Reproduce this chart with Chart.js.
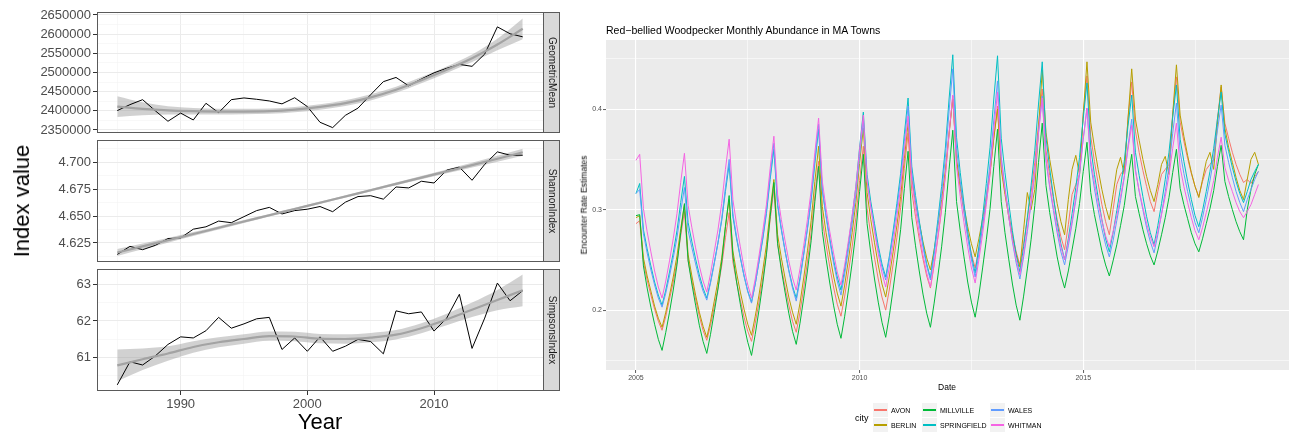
<!DOCTYPE html>
<html>
<head>
<meta charset="utf-8">
<title>Index values and woodpecker abundance</title>
<script src="https://cdn.jsdelivr.net/npm/chart.js@4.4.1/dist/chart.umd.min.js"></script>
<style>
  html, body { margin: 0; padding: 0; background: #fff; }
  body { width: 1289px; height: 432px; position: relative; overflow: hidden;
         font-family: "Liberation Sans", Arial, sans-serif; }
  canvas { position: absolute; }
  .lbl { position: absolute; white-space: nowrap; line-height: 1; color: #000; }
  .key { position: absolute; width: 15px; height: 14px; background: #F2F2F2; }
  .key span { position: absolute; left: 1px; width: 13px; top: 6px; height: 2px; }
</style>
</head>
<body>
<canvas id="facetGeo" width="562" height="141" style="left:0;top:2px"></canvas>
<canvas id="facetShannon" width="562" height="142" style="left:0;top:130px"></canvas>
<canvas id="facetSimpson" width="562" height="158" style="left:0;top:259px"></canvas>
<canvas id="chartCities" width="729" height="352" style="left:560px;top:34px"></canvas>

<div class="lbl" style="left:22px;top:201px;font-size:22px;transform:translate(-50%,-50%) rotate(-90deg)">Index value</div>
<div class="lbl" style="left:320px;top:422px;font-size:22px;transform:translate(-50%,-50%)">Year</div>
<div class="lbl" style="left:606px;top:30px;font-size:10.5px;transform:translateY(-50%)">Red−bellied Woodpecker Monthly Abundance in MA Towns</div>
<div class="lbl" style="left:947px;top:387px;font-size:8.5px;transform:translate(-50%,-50%)">Date</div>
<div class="lbl" style="left:584px;top:205px;font-size:8.5px;transform:translate(-50%,-50%) rotate(-90deg)">Encounter Rate Estimates</div>
<div class="lbl" style="left:855px;top:418px;font-size:9px;transform:translateY(-50%)">city</div>
<div id="legend"></div>

<script>
// ---- left panels: yearly index values ----
const YEARS = [1985, 1986, 1987, 1988, 1989, 1990, 1991, 1992, 1993, 1994, 1995,
               1996, 1997, 1998, 1999, 2000, 2001, 2002, 2003, 2004, 2005, 2006,
               2007, 2008, 2009, 2010, 2011, 2012, 2013, 2014, 2015, 2016, 2017];
const FIT_YEARS = [1985, 1987, 1989, 1991, 1993, 1995, 1997, 1999, 2001,
                   2003, 2005, 2007, 2009, 2011, 2013, 2015, 2017];

const geometricMean = [2400400, 2416000, 2429000, 2400000, 2372600, 2394000, 2376000, 2419600,
                       2395000, 2429000, 2433500, 2430000, 2425600, 2418000, 2434000, 2411000,
                       2370000, 2356000, 2388000, 2407000, 2442000, 2476000, 2487000, 2465000,
                       2483000, 2499000, 2511000, 2521000, 2516000, 2548000, 2619000, 2601000, 2593000];
const geometricFit = [2411000, 2405000, 2401000, 2399000, 2398000, 2398000, 2399000, 2403000, 2410000,
                      2420000, 2435000, 2455000, 2480000, 2507000, 2537000, 2573000, 2614000];
const geometricLow = [2384000, 2388000, 2390000, 2390500, 2390500, 2391000, 2392000, 2396000, 2403000,
                      2412500, 2427000, 2447000, 2472000, 2498500, 2527000, 2558000, 2587000];
const geometricHigh = [2438000, 2422000, 2412000, 2407500, 2405500, 2405000, 2406000, 2410000, 2417000,
                       2427500, 2443000, 2463000, 2488000, 2515500, 2547000, 2588000, 2641000];

const shannonIndex = [4.6144, 4.6219, 4.6188, 4.6228, 4.6291, 4.6297, 4.6378, 4.6400, 4.6453, 4.6438,
                      4.6494, 4.6550, 4.6580, 4.6519, 4.6550, 4.6563, 4.6588, 4.6540, 4.6628, 4.6680,
                      4.6688, 4.6656, 4.6769, 4.6760, 4.6822, 4.6806, 4.6925, 4.6953, 4.6831, 4.6978,
                      4.7094, 4.7063, 4.7063];
const shannonFit = [4.6162, 4.6219, 4.6275, 4.6333, 4.6391, 4.6449, 4.6507, 4.6565, 4.6623,
                    4.6681, 4.6739, 4.6797, 4.6855, 4.6913, 4.6971, 4.7030, 4.7090];
const shannonLow = [4.6130, 4.6192, 4.6253, 4.6315, 4.6376, 4.6436, 4.6495, 4.6554, 4.6612,
                    4.6670, 4.6727, 4.6784, 4.6840, 4.6895, 4.6949, 4.7003, 4.7058];
const shannonHigh = [4.6194, 4.6246, 4.6297, 4.6351, 4.6406, 4.6462, 4.6519, 4.6576, 4.6634,
                     4.6692, 4.6751, 4.6810, 4.6870, 4.6931, 4.6993, 4.7057, 4.7122];

const simpsonsIndex = [60.23, 60.87, 60.78, 61.03, 61.35, 61.56, 61.53, 61.73, 62.10, 61.80, 61.92,
                       62.06, 62.10, 61.21, 61.53, 61.16, 61.56, 61.16, 61.30, 61.49, 61.43, 61.09,
                       62.28, 62.20, 62.25, 61.72, 62.08, 62.74, 61.24, 62.08, 63.05, 62.56, 62.84];
const simpsonsFit = [60.77, 60.94, 61.10, 61.28, 61.41, 61.50, 61.58, 61.57, 61.51,
                     61.50, 61.54, 61.62, 61.80, 62.04, 62.31, 62.58, 62.85];
const simpsonsLow = [60.33, 60.64, 60.90, 61.12, 61.27, 61.37, 61.45, 61.44, 61.38,
                     61.37, 61.41, 61.49, 61.66, 61.88, 62.11, 62.30, 62.41];
const simpsonsHigh = [61.21, 61.24, 61.30, 61.44, 61.55, 61.63, 61.71, 61.70, 61.64,
                      61.63, 61.67, 61.75, 61.94, 62.20, 62.51, 62.86, 63.29];

const yearMajor = [1990, 2000, 2010];
const yearMinor = [1985, 1995, 2005, 2015];
const geoMajor = [2350000, 2400000, 2450000, 2500000, 2550000, 2600000, 2650000];
const geoMinor = [2375000, 2425000, 2475000, 2525000, 2575000, 2625000];
const shannonMajor = [4.625, 4.650, 4.675, 4.700];
const shannonMinor = [4.6125, 4.6375, 4.6625, 4.6875, 4.7125];
const simpsonsMajor = [61, 62, 63];
const simpsonsMinor = [60.5, 61.5, 62.5];

// ---- right panel: monthly encounter rates, Jan 2005 .. Dec 2018 (one row per year) ----
const START_YEAR = 2005;
const CITY_NAMES = ['AVON', 'BERLIN', 'MILLVILLE', 'SPRINGFIELD', 'WALES', 'WHITMAN'];
const CITY_COLORS = ['#F8766D', '#B79F00', '#00BA38', '#00BFC4', '#619CFF', '#F564E3'];

const avon = [
  0.286, 0.289, 0.248, 0.230, 0.215, 0.201, 0.189, 0.180, 0.194, 0.211, 0.228, 0.248,
  0.274, 0.298, 0.249, 0.229, 0.211, 0.194, 0.180, 0.170, 0.185, 0.203, 0.222, 0.244,
  0.272, 0.297, 0.248, 0.228, 0.210, 0.193, 0.179, 0.169, 0.187, 0.208, 0.231, 0.257,
  0.290, 0.320, 0.266, 0.243, 0.223, 0.205, 0.189, 0.178, 0.198, 0.222, 0.248, 0.277,
  0.314, 0.348, 0.290, 0.265, 0.243, 0.223, 0.206, 0.194, 0.214, 0.238, 0.263, 0.292,
  0.329, 0.363, 0.301, 0.275, 0.252, 0.231, 0.213, 0.200, 0.221, 0.246, 0.272, 0.302,
  0.341, 0.376, 0.318, 0.293, 0.271, 0.251, 0.234, 0.222, 0.245, 0.272, 0.300, 0.333,
  0.375, 0.413, 0.348, 0.321, 0.297, 0.275, 0.256, 0.242, 0.261, 0.284, 0.308, 0.335,
  0.371, 0.403, 0.343, 0.318, 0.296, 0.275, 0.258, 0.245, 0.266, 0.291, 0.317, 0.347,
  0.385, 0.420, 0.359, 0.334, 0.311, 0.290, 0.273, 0.260, 0.285, 0.315, 0.325, 0.335,
  0.395, 0.433, 0.373, 0.348, 0.326, 0.305, 0.288, 0.275, 0.300, 0.325, 0.335, 0.340,
  0.390, 0.427, 0.378, 0.357, 0.339, 0.323, 0.308, 0.298, 0.318, 0.335, 0.340, 0.345,
  0.395, 0.432, 0.387, 0.368, 0.351, 0.336, 0.323, 0.313, 0.328, 0.340, 0.345, 0.350,
  0.390, 0.422, 0.386, 0.371, 0.357, 0.345, 0.335, 0.327, 0.330, 0.326, 0.333, 0.338
];
const berlin = [
  0.292, 0.294, 0.252, 0.234, 0.219, 0.204, 0.192, 0.183, 0.198, 0.215, 0.233, 0.254,
  0.281, 0.305, 0.255, 0.234, 0.215, 0.198, 0.184, 0.173, 0.189, 0.209, 0.229, 0.252,
  0.283, 0.310, 0.259, 0.237, 0.218, 0.201, 0.186, 0.175, 0.194, 0.215, 0.239, 0.265,
  0.299, 0.330, 0.275, 0.252, 0.232, 0.213, 0.198, 0.186, 0.207, 0.232, 0.259, 0.289,
  0.328, 0.363, 0.303, 0.277, 0.255, 0.234, 0.217, 0.204, 0.225, 0.250, 0.277, 0.307,
  0.346, 0.381, 0.317, 0.290, 0.267, 0.245, 0.226, 0.213, 0.234, 0.258, 0.284, 0.313,
  0.351, 0.386, 0.331, 0.307, 0.287, 0.268, 0.252, 0.240, 0.260, 0.284, 0.310, 0.339,
  0.376, 0.410, 0.350, 0.325, 0.303, 0.283, 0.266, 0.253, 0.271, 0.291, 0.313, 0.338,
  0.371, 0.400, 0.340, 0.315, 0.293, 0.273, 0.256, 0.243, 0.280, 0.317, 0.300, 0.320,
  0.380, 0.439, 0.377, 0.350, 0.328, 0.306, 0.288, 0.275, 0.310, 0.340, 0.354, 0.335,
  0.395, 0.447, 0.387, 0.362, 0.340, 0.320, 0.303, 0.290, 0.315, 0.340, 0.352, 0.335,
  0.390, 0.440, 0.390, 0.369, 0.350, 0.333, 0.319, 0.308, 0.325, 0.345, 0.353, 0.335,
  0.395, 0.444, 0.394, 0.373, 0.354, 0.337, 0.323, 0.312, 0.330, 0.348, 0.357, 0.340,
  0.385, 0.424, 0.381, 0.362, 0.347, 0.332, 0.319, 0.310, 0.330, 0.350, 0.357, 0.345
];
const millville = [
  0.294, 0.295, 0.244, 0.222, 0.203, 0.186, 0.171, 0.160, 0.178, 0.198, 0.220, 0.245,
  0.277, 0.306, 0.249, 0.226, 0.205, 0.185, 0.169, 0.157, 0.176, 0.198, 0.221, 0.248,
  0.283, 0.314, 0.254, 0.228, 0.206, 0.185, 0.168, 0.155, 0.176, 0.200, 0.226, 0.255,
  0.293, 0.327, 0.266, 0.240, 0.218, 0.197, 0.179, 0.166, 0.187, 0.212, 0.239, 0.269,
  0.308, 0.343, 0.278, 0.251, 0.227, 0.205, 0.186, 0.172, 0.194, 0.220, 0.247, 0.278,
  0.318, 0.355, 0.286, 0.257, 0.231, 0.208, 0.188, 0.173, 0.195, 0.221, 0.249, 0.280,
  0.321, 0.358, 0.292, 0.264, 0.239, 0.216, 0.197, 0.183, 0.207, 0.234, 0.263, 0.297,
  0.340, 0.379, 0.308, 0.279, 0.253, 0.228, 0.208, 0.193, 0.215, 0.242, 0.270, 0.301,
  0.343, 0.380, 0.308, 0.277, 0.251, 0.226, 0.205, 0.190, 0.214, 0.241, 0.270, 0.304,
  0.347, 0.386, 0.324, 0.297, 0.275, 0.253, 0.235, 0.222, 0.239, 0.260, 0.281, 0.306,
  0.338, 0.367, 0.317, 0.295, 0.277, 0.259, 0.245, 0.234, 0.249, 0.265, 0.284, 0.304,
  0.331, 0.355, 0.313, 0.296, 0.280, 0.266, 0.254, 0.245, 0.259, 0.275, 0.292, 0.312,
  0.337, 0.360, 0.321, 0.305, 0.291, 0.277, 0.266, 0.258, 0.271, 0.286, 0.301, 0.319,
  0.343, 0.364, 0.328, 0.313, 0.300, 0.288, 0.278, 0.270, 0.300, 0.320, 0.335, 0.345
];
const springfield = [
  0.316, 0.326, 0.280, 0.261, 0.244, 0.228, 0.215, 0.205, 0.220, 0.238, 0.257, 0.279,
  0.307, 0.333, 0.287, 0.268, 0.251, 0.235, 0.222, 0.212, 0.228, 0.247, 0.267, 0.289,
  0.318, 0.345, 0.293, 0.271, 0.252, 0.234, 0.219, 0.208, 0.226, 0.248, 0.270, 0.296,
  0.330, 0.360, 0.304, 0.280, 0.259, 0.240, 0.224, 0.212, 0.232, 0.256, 0.281, 0.309,
  0.346, 0.380, 0.319, 0.294, 0.271, 0.250, 0.233, 0.220, 0.241, 0.266, 0.293, 0.323,
  0.362, 0.397, 0.335, 0.308, 0.286, 0.264, 0.246, 0.233, 0.254, 0.279, 0.306, 0.336,
  0.375, 0.411, 0.343, 0.314, 0.289, 0.266, 0.246, 0.232, 0.259, 0.290, 0.323, 0.361,
  0.410, 0.454, 0.372, 0.337, 0.306, 0.278, 0.254, 0.237, 0.263, 0.293, 0.326, 0.362,
  0.410, 0.453, 0.371, 0.337, 0.307, 0.279, 0.255, 0.238, 0.263, 0.292, 0.324, 0.359,
  0.405, 0.447, 0.372, 0.341, 0.313, 0.287, 0.266, 0.250, 0.271, 0.296, 0.322, 0.352,
  0.391, 0.426, 0.362, 0.335, 0.312, 0.290, 0.271, 0.258, 0.277, 0.299, 0.322, 0.348,
  0.383, 0.414, 0.357, 0.334, 0.313, 0.293, 0.277, 0.265, 0.284, 0.306, 0.330, 0.357,
  0.392, 0.424, 0.370, 0.348, 0.328, 0.310, 0.294, 0.283, 0.299, 0.318, 0.338, 0.361,
  0.390, 0.417, 0.375, 0.358, 0.342, 0.328, 0.316, 0.307, 0.318, 0.330, 0.338, 0.345
];
const wales = [
  0.316, 0.320, 0.276, 0.257, 0.240, 0.225, 0.212, 0.203, 0.217, 0.234, 0.252, 0.272,
  0.298, 0.322, 0.279, 0.262, 0.246, 0.231, 0.219, 0.210, 0.227, 0.246, 0.267, 0.291,
  0.322, 0.350, 0.296, 0.273, 0.253, 0.234, 0.218, 0.207, 0.226, 0.248, 0.272, 0.299,
  0.334, 0.366, 0.306, 0.281, 0.259, 0.239, 0.222, 0.209, 0.230, 0.255, 0.281, 0.311,
  0.350, 0.385, 0.320, 0.293, 0.269, 0.247, 0.229, 0.215, 0.236, 0.260, 0.286, 0.315,
  0.353, 0.388, 0.328, 0.303, 0.281, 0.260, 0.243, 0.230, 0.251, 0.275, 0.301, 0.330,
  0.368, 0.403, 0.337, 0.310, 0.285, 0.263, 0.244, 0.230, 0.255, 0.285, 0.316, 0.352,
  0.398, 0.440, 0.361, 0.328, 0.299, 0.272, 0.250, 0.233, 0.256, 0.284, 0.313, 0.346,
  0.389, 0.428, 0.353, 0.322, 0.294, 0.268, 0.247, 0.231, 0.253, 0.278, 0.306, 0.337,
  0.377, 0.413, 0.349, 0.322, 0.299, 0.277, 0.258, 0.245, 0.264, 0.286, 0.309, 0.335,
  0.370, 0.401, 0.345, 0.321, 0.300, 0.281, 0.265, 0.253, 0.269, 0.289, 0.309, 0.332,
  0.363, 0.390, 0.340, 0.318, 0.300, 0.282, 0.268, 0.257, 0.275, 0.296, 0.318, 0.343,
  0.376, 0.406, 0.357, 0.336, 0.318, 0.302, 0.287, 0.277, 0.292, 0.310, 0.329, 0.351,
  0.379, 0.404, 0.364, 0.347, 0.332, 0.318, 0.307, 0.298, 0.310, 0.320, 0.330, 0.338
];
const whitman = [
  0.349, 0.355, 0.301, 0.278, 0.258, 0.239, 0.223, 0.212, 0.229, 0.249, 0.271, 0.296,
  0.327, 0.356, 0.304, 0.282, 0.262, 0.244, 0.229, 0.218, 0.236, 0.258, 0.280, 0.306,
  0.340, 0.370, 0.310, 0.285, 0.263, 0.242, 0.225, 0.212, 0.231, 0.254, 0.278, 0.305,
  0.341, 0.373, 0.315, 0.290, 0.269, 0.249, 0.232, 0.220, 0.241, 0.264, 0.290, 0.319,
  0.357, 0.391, 0.328, 0.301, 0.278, 0.257, 0.238, 0.225, 0.245, 0.269, 0.294, 0.323,
  0.360, 0.394, 0.329, 0.302, 0.278, 0.256, 0.237, 0.223, 0.243, 0.267, 0.293, 0.322,
  0.359, 0.393, 0.328, 0.301, 0.277, 0.255, 0.237, 0.223, 0.246, 0.273, 0.301, 0.334,
  0.376, 0.414, 0.343, 0.313, 0.287, 0.263, 0.242, 0.227, 0.250, 0.276, 0.305, 0.337,
  0.379, 0.417, 0.348, 0.319, 0.293, 0.270, 0.250, 0.235, 0.256, 0.281, 0.307, 0.337,
  0.376, 0.411, 0.350, 0.324, 0.302, 0.281, 0.263, 0.250, 0.268, 0.289, 0.312, 0.338,
  0.371, 0.401, 0.349, 0.327, 0.307, 0.289, 0.274, 0.263, 0.278, 0.294, 0.313, 0.333,
  0.360, 0.384, 0.338, 0.319, 0.302, 0.286, 0.273, 0.263, 0.278, 0.295, 0.313, 0.334,
  0.361, 0.386, 0.342, 0.323, 0.307, 0.292, 0.279, 0.270, 0.282, 0.297, 0.312, 0.329,
  0.352, 0.372, 0.342, 0.329, 0.318, 0.307, 0.298, 0.292, 0.298, 0.305, 0.315, 0.325
];
const CITY_SERIES = [avon, berlin, millville, springfield, wales, whitman];

const dateMajor = [2005, 2010, 2015];
const dateMinor = [2007.5, 2012.5, 2017.5];
const rateMajor = [0.2, 0.3, 0.4];
const rateMinor = [0.15, 0.25, 0.35, 0.45];

Chart.defaults.font.family = '"Liberation Sans", Arial, sans-serif';
Chart.defaults.color = '#4D4D4D';
Chart.defaults.animation = false;

const TRANSPARENT = 'rgba(0,0,0,0)';

// panel border + grey strip with the facet name
const facetFrame = {
  id: 'facetFrame',
  afterDraw(chart, args, opts) {
    const { ctx, chartArea: a } = chart;
    const h = a.bottom - a.top;
    ctx.save();
    ctx.fillStyle = '#D9D9D9';
    ctx.fillRect(a.right, a.top, opts.stripWidth, h);
    ctx.strokeStyle = '#5A5A5A';
    ctx.lineWidth = 1;
    ctx.strokeRect(a.left + 0.5, a.top + 0.5, a.right - a.left, h - 1);
    ctx.strokeRect(a.right + 0.5, a.top + 0.5, opts.stripWidth - 1, h - 1);
    ctx.translate(a.right + opts.stripWidth / 2, a.top + h / 2);
    ctx.rotate(Math.PI / 2);
    ctx.fillStyle = '#1A1A1A';
    ctx.font = '10px "Liberation Sans", Arial, sans-serif';
    ctx.textAlign = 'center';
    ctx.textBaseline = 'middle';
    ctx.fillText(opts.label, 0, 0);
    ctx.restore();
  }
};

const panelBackground = {
  id: 'panelBackground',
  beforeDraw(chart, args, opts) {
    const { ctx, chartArea: a } = chart;
    ctx.save();
    ctx.fillStyle = opts.color;
    ctx.fillRect(a.left, a.top, a.right - a.left, a.bottom - a.top);
    ctx.restore();
  }
};

function tickScale(major, minor, opts) {
  const isMajor = v => major.some(m => Math.abs(m - v) < 1e-9);
  return {
    type: 'linear',
    min: opts.min,
    max: opts.max,
    afterBuildTicks: s => { s.ticks = major.concat(minor).sort((p, q) => p - q).map(v => ({ value: v })); },
    afterFit: s => { if (opts.width !== undefined) s.width = opts.width; if (opts.height !== undefined) s.height = opts.height; },
    border: { display: false },
    grid: {
      color: c => isMajor(c.tick.value) ? opts.majorColor : opts.minorColor,
      lineWidth: c => isMajor(c.tick.value) ? opts.majorWidth : opts.minorWidth,
      tickColor: c => isMajor(c.tick.value) ? '#333333' : TRANSPARENT,
      tickLength: opts.tickLength,
      tickWidth: opts.tickWidth,
      drawTicks: opts.showLabels
    },
    ticks: {
      display: opts.showLabels,
      autoSkip: false,
      maxRotation: 0,
      padding: opts.padding,
      color: '#4D4D4D',
      font: { size: opts.fontSize },
      callback: v => isMajor(v) ? opts.format(v) : ''
    }
  };
}

function makeFacet(id, label, values, fit, low, high, yMajor, yMinor, yMin, yMax, showYears) {
  const line = (ys, xs) => xs.map((x, i) => ({ x, y: ys[i] }));
  const leftGrid = { majorColor: '#EBEBEB', minorColor: '#F3F3F3', majorWidth: 1, minorWidth: 0.6,
                     tickLength: 4, tickWidth: 1, fontSize: 13, padding: 2 };
  return new Chart(document.getElementById(id), {
    type: 'line',
    data: {
      datasets: [
        { data: line(low, FIT_YEARS), borderColor: TRANSPARENT, borderWidth: 0, pointRadius: 0,
          fill: false, cubicInterpolationMode: 'monotone', order: 3 },
        { data: line(high, FIT_YEARS), borderColor: TRANSPARENT, borderWidth: 0, pointRadius: 0,
          fill: '-1', backgroundColor: 'rgba(153,153,153,0.45)', cubicInterpolationMode: 'monotone', order: 2 },
        { data: line(values, YEARS), borderColor: '#000000', borderWidth: 1, pointRadius: 0, order: 1 },
        { data: line(fit, FIT_YEARS), borderColor: '#A3A3A3', borderWidth: 2.2, pointRadius: 0,
          cubicInterpolationMode: 'monotone', order: 0 }
      ]
    },
    options: {
      responsive: false,
      devicePixelRatio: 1,
      events: [],
      layout: { padding: { left: 0, right: 19, top: 10, bottom: showYears ? 0 : 10 } },
      plugins: { legend: { display: false }, tooltip: { enabled: false },
                 facetFrame: { label, stripWidth: 17 } },
      scales: {
        x: tickScale(yearMajor, yearMinor, Object.assign({}, leftGrid, {
          min: 1983.4, max: 2018.6, height: showYears ? 26 : 0, showLabels: showYears,
          format: v => String(v) })),
        y: tickScale(yMajor, yMinor, Object.assign({}, leftGrid, {
          min: yMin, max: yMax, width: 97, showLabels: true,
          format: v => id === 'facetShannon' ? v.toFixed(3) : String(v) }))
      }
    },
    plugins: [facetFrame]
  });
}

function makeCityChart() {
  const months = avon.map((_, i) => START_YEAR + i / 12);
  const rightGrid = { majorColor: '#FFFFFF', minorColor: '#FFFFFF', majorWidth: 1.1, minorWidth: 0.55,
                      tickLength: 3, tickWidth: 0.8, fontSize: 7, padding: 1, showLabels: true };
  return new Chart(document.getElementById('chartCities'), {
    type: 'line',
    data: {
      datasets: CITY_SERIES.map((series, i) => ({
        label: CITY_NAMES[i],
        data: months.map((x, j) => ({ x, y: series[j] })),
        borderColor: CITY_COLORS[i],
        borderWidth: 1,
        pointRadius: 0,
        tension: 0,
        order: CITY_SERIES.length - 1 - i
      }))
    },
    options: {
      responsive: false,
      devicePixelRatio: 1,
      events: [],
      layout: { padding: { left: 0, right: 0, top: 6, bottom: 0 } },
      plugins: { legend: { display: false }, tooltip: { enabled: false },
                 panelBackground: { color: '#EBEBEB' } },
      scales: {
        x: tickScale(dateMajor, dateMinor, Object.assign({}, rightGrid, {
          min: 2004.33, max: 2019.6, height: 16, format: v => String(v) })),
        y: tickScale(rateMajor, rateMinor, Object.assign({}, rightGrid, {
          min: 0.1405, max: 0.4687, width: 46, format: v => v.toFixed(1) }))
      }
    },
    plugins: [panelBackground]
  });
}

function buildLegend() {
  const holder = document.getElementById('legend');
  const colX = [873, 922, 990];
  const rowY = [403, 418];
  CITY_NAMES.forEach((name, i) => {
    const x = colX[Math.floor(i / 2)];
    const y = rowY[i % 2];
    const key = document.createElement('div');
    key.className = 'key';
    key.style.left = x + 'px';
    key.style.top = y + 'px';
    const stroke = document.createElement('span');
    stroke.style.background = CITY_COLORS[i];
    key.appendChild(stroke);
    holder.appendChild(key);

    const txt = document.createElement('div');
    txt.className = 'lbl';
    txt.textContent = name;
    txt.style.left = (x + 18) + 'px';
    txt.style.top = (y + 7) + 'px';
    txt.style.fontSize = '7px';
    txt.style.transform = 'translateY(-50%)';
    holder.appendChild(txt);
  });
}

makeFacet('facetGeo', 'GeometricMean', geometricMean, geometricFit, geometricLow, geometricHigh,
          geoMajor, geoMinor, 2342000, 2657800, false);
makeFacet('facetShannon', 'ShannonIndex', shannonIndex, shannonFit, shannonLow, shannonHigh,
          shannonMajor, shannonMinor, 4.6074, 4.7204, false);
makeFacet('facetSimpson', 'SimpsonsIndex', simpsonsIndex, simpsonsFit, simpsonsLow, simpsonsHigh,
          simpsonsMajor, simpsonsMinor, 60.06, 63.44, true);
makeCityChart();
buildLegend();
</script>
</body>
</html>
